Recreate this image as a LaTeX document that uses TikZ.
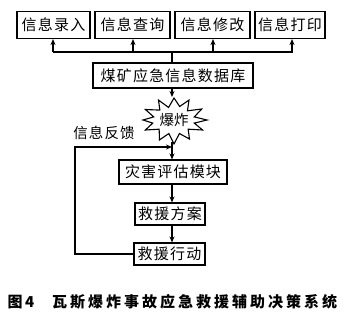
\documentclass[tikz,border=0pt]{standalone}
\usepackage{fontspec}
\newfontfamily\cjk{Noto Sans CJK SC}
\newfontfamily\cjkbox[LetterSpace=8]{Noto Sans CJK SC}
\newfontfamily\cjkcap[LetterSpace=20]{Noto Sans CJK SC}
\usetikzlibrary{arrows.meta}
\begin{document}
\begin{tikzpicture}[x=1pt,y=-1pt,
  box/.style={draw,line width=1.1pt,inner sep=0pt,font=\cjkbox\fontsize{15}{15}\selectfont},
  arr/.style={line width=1.1pt,-{Stealth[length=6pt,width=5pt]}},
  ln/.style={line width=1.1pt}]
\useasboundingbox (0,0) rectangle (350,321);
\node[box,minimum width=73pt,minimum height=27pt] (b1) at (53.5,25) {信息录入};
\node[box,minimum width=75pt,minimum height=27pt] (b2) at (132.5,25) {信息查询};
\node[box,minimum width=75pt,minimum height=27pt] (b3) at (212.5,25) {信息修改};
\node[box,minimum width=70pt,minimum height=27pt] (b4) at (290,25) {信息打印};
\node[box,minimum width=160pt,minimum height=25pt] (db) at (173,75.5) {煤矿应急信息数据库};
\coordinate (j) at (172,52);
\draw[ln] (db.north -| j) -- (j);
\draw[ln] (53,52) -- (293,52);
\coordinate (c1) at (53,52);
\coordinate (c2) at (133,52);
\coordinate (c3) at (213,52);
\coordinate (c4) at (292,52);
\draw[arr] (c1) -- (c1 |- b1.south);
\draw[arr] (c2) -- (c2 |- b2.south);
\draw[arr] (c3) -- (c3 |- b3.south);
\draw[arr] (c4) -- (c4 |- b4.south);
\node[inner sep=0pt,font=\cjk\fontsize{14.5}{14.5}\selectfont] (star) at (174,120) {爆炸};
\draw[ln,line join=miter,shift={(star.center)}] (0:33pt and 20pt)
  \foreach \a/\ro/\rp in {15/21/12,30/32/22,45/19/13,60/30/23,75/22/14,90/28/22,105/21/13,120/31/23,135/20/14,150/33/21,165/21/12,180/31/18,195/22/12,210/33/20,225/21/13,240/29/23,255/20/14,270/30/24,285/21/14,300/31/22,315/20/13,330/33/20,345/21/12} {-- (\a:\ro pt and \rp pt)} -- cycle;
\draw[arr] (db.south -| j) -- (172,97);
\node[box,minimum width=108pt,minimum height=24pt] (ev) at (173,172) {灾害评估模块};
\node[box,minimum width=70pt,minimum height=22pt] (plan) at (170,214) {救援方案};
\node[box,minimum width=71pt,minimum height=22pt] (act) at (169.5,254) {救援行动};
\coordinate (s) at (172,142);
\draw[arr] (s) -- (s |- ev.north);
\draw[arr] (s |- ev.south) -- (s |- plan.north);
\draw[arr] (s |- plan.south) -- (s |- act.north);
\coordinate (fb) at (172,147);
\draw[arr] (act.west) -- (75,254) -- (75,147) -- (fb);
\node[font=\cjkbox\fontsize{14.5}{14.5}\selectfont] (fl) at (104,133) {信息反馈};
\node[font=\cjkcap\bfseries\fontsize{15}{15}\selectfont,anchor=west] (cap) at (4,302) {图\,4\hspace{1.2em}瓦斯爆炸事故应急救援辅助决策系统};
\end{tikzpicture}
\end{document}
